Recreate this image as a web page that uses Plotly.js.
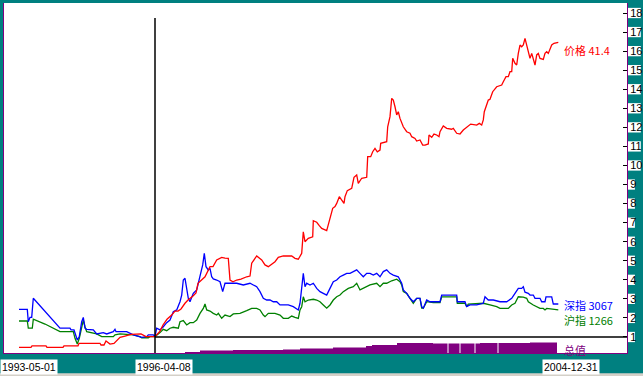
<!DOCTYPE html>
<html><head><meta charset="utf-8">
<script src="https://cdn.plot.ly/plotly-3.0.1.min.js"></script>
<style>html,body{margin:0;padding:0;background:#008080;}</style>
</head><body><div id="chart" style="width:643px;height:376px;"></div>
<script>
// position along the time axis (bar position units)
var priceT = [19,31,32,46,47,63,64,78,79,100,101,104,106,110,114,117,120,125,131,141,146,155,160,163,167,171.7,175,178,181,185,188,193,196,198,201.7,205,210,213,216.7,221.7,225,228.3,230,233,236.7,241,246.7,250,251.7,255,256.7,261.7,265,268.3,271.7,275,278.3,283.3,291.7,295,298.3,301.7,303.3,305,308.3,312.7,313.3,316.7,319.3,321.7,326.7,328.3,330,332.7,335,336.7,339.3,341.7,344,345,347.3,351.7,354,356.7,358.3,361.7,366.7,367.7,370.7,372.7,375,377.3,380,380.7,385,386.7,387.7,390,391.7,393.3,395,396.7,398.3,400,403.3,405,406.7,410,411.7,415,416.7,420,422.7,425,428.3,429,431.7,434,436.7,439,440,443.3,446.7,451.7,453.3,456.7,460,463.3,466.7,470.7,476.7,479.3,481.7,483.3,484.3,486.7,488.3,490,492.7,496.7,501.7,503.3,506,508.3,510,511.7,512.7,515,516.7,518.3,520,521.7,523.3,525,526.7,528.3,530,531.7,533.3,535,536.7,538.3,540,543.3,545,546.7,548.3,550,551.7,554,558.3];
var price = [0.46,0.46,0.53,0.53,0.45,0.45,0.53,0.53,0.67,0.67,0.58,0.58,0.79,0.63,0.66,0.84,0.98,1.05,1.14,1.16,1.02,1.02,1.31,1.63,1.93,2.15,2.36,2.36,2.47,2.77,2.94,3.15,3.31,3.82,3.99,4.16,4.69,4.69,5.04,5.18,5.14,5.13,3.99,3.90,3.99,4.04,4.16,4.20,4.87,5.13,5.25,5.04,4.78,4.69,4.83,4.95,5.18,5.25,5.25,5.13,5.08,5.39,6.52,6.00,6.18,6.26,7.10,7.02,6.84,6.70,6.58,6.87,7.31,7.75,7.84,8.01,8.36,8.19,8.01,8.36,8.68,8.80,9.38,9.50,9.06,9.33,9.38,10.46,10.46,10.72,10.90,10.72,10.81,11.16,11.25,11.25,12.03,12.56,13.52,13.43,13.08,12.65,12.82,12.47,12.03,11.86,11.77,11.69,11.51,11.42,11.28,11.34,11.07,11.07,11.13,11.60,11.48,11.65,11.60,11.51,11.77,12.07,11.95,11.90,11.95,11.69,11.65,11.86,12.00,12.17,12.12,12.21,12.12,12.39,12.82,13.17,13.43,13.47,13.87,14.13,14.22,14.39,14.66,14.66,14.92,14.92,15.62,15.36,15.27,15.88,16.32,16.23,16.32,16.67,16.32,15.97,15.62,15.88,15.53,15.27,15.80,15.88,15.62,15.57,15.88,15.97,15.88,16.15,16.32,16.41,16.46];

var szT = [19,27.3,28.3,30,31.7,33.3,60,70,71,74,77.3,79.3,81.7,83.3,85,86.7,93.3,96.7,103.3,106.7,113.3,115,116,126.7,133.3,140,141.7,146.7,148.3,153.3,155,156.7,160,163.3,166.7,170,173.3,176.7,180,181.7,183.3,185,186.7,188.3,190,193.3,196.7,200,202.7,204.3,206,208.3,210,211.7,213.3,216.7,220,222.7,225,230,236.7,243.3,250,253.3,256.7,260,263.3,266.7,270,273.3,276.7,280,288.3,293.3,298.3,300,301.7,303.3,305,306.7,310,313.3,316.7,320,323.3,326.7,330,333.3,336.7,340,343.3,346.7,350,353.3,356.7,360,363.3,366.7,370,373.3,376.7,380,383.3,386.7,390,393.3,398.3,401.7,403.3,406.7,410,413.3,416.7,420,421.7,423.3,426.7,430,440,441.7,456.7,457.3,465,466.7,470,476.7,483.3,485,488.3,493.3,500,506.7,511.7,515,518.3,521.7,523.3,525,528.3,530,533.3,535,540,541.7,545,546,551.7,553.3,558.3];
var shenzhen = [2.45,2.45,1.80,2.03,2.03,3.03,1.46,1.46,1.37,1.37,0.84,1.02,1.80,2.03,1.46,1.40,1.37,1.16,1.23,1.16,1.28,1.40,1.28,1.28,1.11,1.02,0.98,1.02,1.11,1.11,1.02,1.46,1.37,1.54,1.75,1.89,2.33,2.42,2.85,3.20,3.99,4.08,3.47,3.03,2.85,3.29,3.47,4.20,4.78,5.39,4.69,4.52,4.60,4.16,4.05,3.99,3.90,3.38,3.82,3.82,3.82,3.73,3.82,3.73,3.64,3.38,3.03,2.94,2.94,2.85,2.85,2.68,2.68,2.59,2.42,2.77,3.47,4.34,3.64,3.82,3.73,3.82,3.55,3.38,3.29,3.20,3.55,3.90,3.99,4.16,4.25,4.34,4.34,4.43,4.52,4.34,4.16,4.34,4.34,4.25,4.34,4.16,4.43,4.52,4.34,4.25,4.16,3.82,3.47,3.29,3.03,2.85,3.03,3.03,2.59,2.51,2.94,2.85,2.85,3.20,3.20,2.85,2.85,2.59,2.68,2.68,2.77,3.11,2.94,2.94,2.85,2.85,3.03,3.29,3.55,3.55,3.64,3.35,3.29,3.20,3.20,3.03,3.03,2.85,2.85,3.11,3.11,2.73,2.73];

var shT = [19,27.3,28.3,32.3,33.3,45,60,73.3,75,77.3,79.3,81.7,83.3,85,86.7,96.7,101.7,113.3,115,120,133.3,140,141.7,148.3,150,155,156.7,160,163.3,166.7,170,173.3,178.3,180,183.3,186.7,190,193.3,196.7,200,203.3,205,206.7,210,213.3,216.7,218.3,221.7,225,230,233.3,240,246.7,251.7,256.7,260,263.3,265,268.3,275,280,283.3,288.3,291.7,295,298.3,300,301.7,303.3,305,308.3,313.3,316.7,320,323.3,326.7,330,333.3,336.7,340,343.3,348.3,353.3,356.7,360,363.3,366.7,370,376.7,380,383.3,386.7,391.7,396.7,400,401.7,403.3,406.7,410,413.3,416.7,420,421.7,423.3,426.7,433.3,440,441.7,456.7,457.3,465,466.7,468.3,483.3,490,496.7,500,508.3,511.7,515,518.3,523.3,526.7,528.3,533.3,536.7,540,543.3,545,546.7,553.3,558.3];
var shanghai = [1.84,1.84,1.46,1.46,1.93,1.68,1.28,1.28,0.93,0.63,0.93,1.63,1.89,1.54,1.28,1.16,1.02,1.02,1.11,1.16,1.11,1.02,0.96,0.96,1.02,1.02,1.11,1.23,1.40,1.33,1.46,1.51,1.46,1.80,1.86,1.63,1.75,1.75,1.89,2.24,2.50,2.73,2.42,2.36,2.24,2.15,2.24,1.98,2.15,2.07,2.21,2.24,2.38,2.50,2.50,2.42,2.15,2.07,2.24,2.24,2.15,1.98,1.98,2.10,2.03,1.98,2.42,2.59,3.11,2.85,2.94,2.98,2.94,2.85,2.68,2.51,2.68,2.94,3.11,3.20,3.38,3.55,3.64,3.82,3.47,3.55,3.64,3.73,3.82,3.64,3.82,3.82,3.95,4.03,3.90,3.73,3.38,3.29,3.03,2.77,3.03,3.03,2.51,2.51,2.85,2.80,2.80,3.11,3.11,2.77,2.77,2.59,2.73,2.77,2.68,2.59,2.50,2.50,2.68,2.77,3.11,3.09,3.03,2.85,2.68,2.59,2.50,2.50,2.42,2.50,2.45,2.42];

// total value (总值) bars, arbitrary units
var volT = [185,200,233,283,300,333,366,372,397,433,446,447.5,448.5,459.5,460.5,474.5,475.5,480,497.5,498.5,530,556,557];
var volume = [2,5,6,7,9,11,14,16,20,19,19,0,19,0,19,0,19,20,0,20,21,21,0];

var yTicks = [1,2,3,4,5,6,7,8,9,10,11,12,13,14,15,16,17,18];
var labelPrice = '价格 41.4', labelSZ = '深指 3067', labelSH = '沪指 1266', labelVol = '总值';
var dateLabels = ['1993-05-01','1996-04-08','2004-12-31'];
var cursorT = 155, cursorV = 1;

var numFont = '"Liberation Sans", Arial, sans-serif';
var cjk = '"Noto Sans CJK SC", "Liberation Sans", sans-serif';

var traces = [
  {x: volT, y: volume, yaxis: 'y2', type: 'scatter', mode: 'lines', line: {shape: 'hv', width: 0, color: '#800080'}, fill: 'tozeroy', fillcolor: '#800080'},
  {x: shT, y: shanghai, type: 'scatter', mode: 'lines', line: {color: '#008000', width: 1.3}},
  {x: szT, y: shenzhen, type: 'scatter', mode: 'lines', line: {color: '#0000ff', width: 1.3}},
  {x: priceT, y: price, type: 'scatter', mode: 'lines', line: {color: '#ff0000', width: 1.3}}
];

var W = 623; // plot width in px (for paper offsets of label boxes)
var shapes = yTicks.map(function(v){
  var w = String(v).length * 5.9 + 1;
  return {type: 'rect', xref: 'paper', yref: 'y', x0: 1 + 1/W, x1: 1 + (1 + w)/W, y0: v - 0.27, y1: v + 0.27,
          fillcolor: '#ffffff', line: {width: 0}, layer: 'below'};
});
shapes.push({type: 'line', xref: 'x', yref: 'paper', x0: cursorT, x1: cursorT, y0: 0, y1: 0.957, line: {color: '#000000', width: 1.5}});
shapes.push({type: 'line', xref: 'x', yref: 'y', x0: cursorT, x1: 627, y0: cursorV, y1: cursorV, line: {color: '#000000', width: 1.5}});
shapes.push({type: 'rect', xref: 'paper', yref: 'paper', x0: -0.01, x1: 1.03, y0: -0.066, y1: -0.058, fillcolor: '#d4d0c8', line: {width: 0}, layer: 'below'});

var annotations = [
  {text: labelPrice, xref: 'x', yref: 'y', x: 562, y: 16.06, xanchor: 'left', yanchor: 'middle', showarrow: false, font: {family: cjk, size: 11, color: '#ff0000'}},
  {text: labelSZ, xref: 'x', yref: 'y', x: 562, y: 2.67, xanchor: 'left', yanchor: 'middle', showarrow: false, font: {family: cjk, size: 11, color: '#0000ff'}},
  {text: labelSH, xref: 'x', yref: 'y', x: 562, y: 1.88, xanchor: 'left', yanchor: 'middle', showarrow: false, font: {family: cjk, size: 11, color: '#008000'}},
  {text: labelVol, xref: 'x', yref: 'paper', x: 562, y: 0.01, xanchor: 'left', yanchor: 'middle', showarrow: false, font: {family: cjk, size: 11, color: '#800080'}},
  {text: dateLabels[0], xref: 'paper', yref: 'paper', x: -4/W, y: -0.041, xanchor: 'left', yanchor: 'middle', showarrow: false, bgcolor: '#ffffff', borderpad: 1, font: {family: numFont, size: 10.5, color: '#000000'}},
  {text: dateLabels[1], xref: 'paper', yref: 'paper', x: 131/W, y: -0.041, xanchor: 'left', yanchor: 'middle', showarrow: false, bgcolor: '#ffffff', borderpad: 1, font: {family: numFont, size: 10.5, color: '#000000'}},
  {text: dateLabels[2], xref: 'paper', yref: 'paper', x: 538/W, y: -0.041, xanchor: 'left', yanchor: 'middle', showarrow: false, bgcolor: '#ffffff', borderpad: 1, font: {family: numFont, size: 10.5, color: '#000000'}}
];

var layout = {
  width: 643, height: 376,
  margin: {l: 4, r: 16, t: 3, b: 23, pad: 0},
  paper_bgcolor: '#008080', plot_bgcolor: '#ffffff',
  showlegend: false,
  xaxis: {range: [4, 627], showgrid: false, zeroline: false, showticklabels: false, ticks: '',
          showline: true, linecolor: '#800080', linewidth: 1, mirror: false, fixedrange: true},
  yaxis: {range: [0.16, 18.525], side: 'right', tickvals: yTicks, ticktext: yTicks.map(String),
          ticks: 'inside', ticklen: 4, tickcolor: '#000000', tickwidth: 1,
          tickfont: {family: numFont, size: 11, color: '#000000'},
          showgrid: false, zeroline: false, showline: true, mirror: true, linecolor: '#800080', linewidth: 1, fixedrange: true},
  yaxis2: {range: [0, 700], overlaying: 'y', visible: false, fixedrange: true},
  shapes: shapes,
  annotations: annotations
};

Plotly.newPlot('chart', traces, layout, {staticPlot: true, displayModeBar: false});
</script>
</body></html>
